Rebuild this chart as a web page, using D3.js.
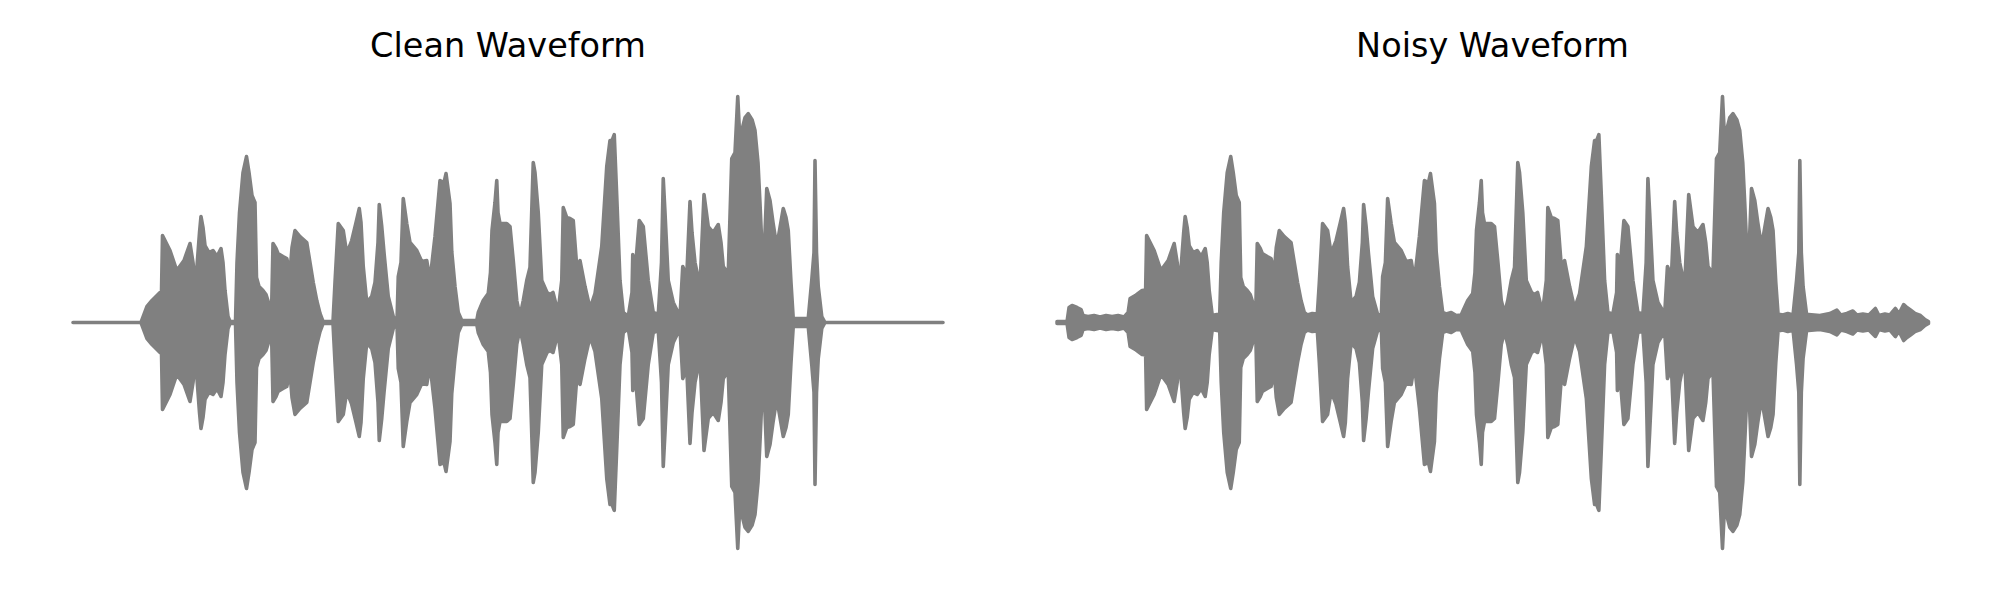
<!DOCTYPE html>
<html><head><meta charset="utf-8">
<script src="https://cdn.jsdelivr.net/npm/d3@7"></script>
<style>body{margin:0;background:#fff} svg{display:block}</style>
</head><body><svg id="c" width="2000" height="600"></svg>
<script>
const titles = ["Clean Waveform", "Noisy Waveform"];

// time in ms, amplitude envelope (fraction of full scale)
const cleanTime = [0,272,284,296,316,336,348,354,358,388,415,444,468,480,490,506,512,520,528,544,560,576,592,600,608,620,628,650,656,666,680,694,704,716,728,734,744,760,772,782,794,800,812,820,840,855,868,876,888,908,935,948,961,975,988,1000,1040,1048,1061,1081,1095,1115,1132,1145,1152,1161,1175,1195,1208,1220,1225,1235,1244,1261,1281,1296,1301,1312,1321,1335,1348,1375,1395,1415,1428,1448,1468,1484,1492,1508,1515,1528,1541,1555,1615,1621,1641,1661,1670,1676,1688,1695,1700,1708,1735,1748,1761,1775,1788,1801,1815,1828,1841,1848,1861,1875,1896,1908,1920,1932,1941,1955,1961,1975,1988,2001,2015,2028,2048,2068,2088,2115,2135,2148,2156,2165,2175,2188,2201,2221,2236,2239,2248,2265,2281,2301,2321,2341,2354,2361,2368,2381,2401,2428,2439,2455,2468,2476,2488,2508,2524,2541,2561,2581,2592,2601,2621,2635,2648,2659,2666,2675,2688,2701,2716,2728,2740,2748,2761,2775,2788,2800,2815,2828,2841,2852,2861,2872,2881,2941,2955,2964,2968,2974,2981,2995,3008,3480];
const cleanAmp = [0,0,0.032,0.064,0.088,0.108,0.12,0.12,0.348,0.288,0.208,0.248,0.316,0.24,0.144,0.36,0.424,0.38,0.308,0.28,0.288,0.264,0.296,0.24,0.128,0.024,0.004,0.004,0.24,0.44,0.6,0.664,0.6,0.508,0.48,0.18,0.144,0.128,0.112,0.08,0.032,0.316,0.296,0.276,0.264,0.256,0.2,0.3,0.368,0.344,0.32,0.24,0.16,0.088,0.036,0.004,0.004,0.16,0.396,0.368,0.276,0.328,0.4,0.456,0.4,0.224,0.08,0.104,0.16,0.32,0.472,0.384,0.28,0.104,0.024,0.004,0.184,0.24,0.496,0.396,0.32,0.288,0.244,0.248,0.168,0.344,0.568,0.56,0.596,0.476,0.284,0.144,0.04,0.008,0.008,0.04,0.088,0.116,0.2,0.368,0.48,0.568,0.44,0.396,0.396,0.384,0.248,0.088,0.024,0.088,0.168,0.22,0.64,0.6,0.44,0.168,0.12,0.112,0.12,0.072,0.048,0.168,0.46,0.42,0.416,0.408,0.224,0.248,0.144,0.056,0.116,0.304,0.624,0.728,0.728,0.752,0.504,0.168,0.04,0.024,0.12,0.272,0.196,0.408,0.384,0.168,0.04,0.032,0.24,0.576,0.44,0.168,0.08,0.024,0.224,0.184,0.484,0.36,0.24,0.144,0.512,0.384,0.36,0.392,0.32,0.224,0.196,0.656,0.68,0.904,0.76,0.768,0.82,0.836,0.812,0.768,0.64,0.476,0.184,0.536,0.488,0.4,0.304,0.38,0.456,0.42,0.368,0.16,0.016,0.016,0.168,0.28,0.648,0.28,0.144,0.024,0,0];

const noisyTime = [0,40,48,60,80,96,104,124,148,172,196,220,244,268,284,292,316,340,354,358,388,415,444,468,480,490,506,512,520,528,544,560,576,592,600,608,620,628,650,656,666,680,694,704,716,728,734,744,760,772,782,794,800,812,820,840,855,868,876,888,908,935,948,961,975,988,1000,1020,1040,1048,1061,1081,1095,1115,1132,1145,1152,1161,1175,1195,1208,1220,1225,1235,1244,1261,1281,1296,1301,1312,1321,1335,1348,1375,1395,1415,1428,1448,1468,1484,1492,1508,1515,1528,1541,1555,1575,1595,1615,1621,1641,1661,1670,1676,1688,1695,1700,1708,1735,1748,1761,1775,1788,1801,1815,1828,1841,1848,1861,1875,1896,1908,1920,1932,1941,1955,1961,1975,1988,2001,2015,2028,2048,2068,2088,2115,2135,2148,2156,2165,2175,2188,2201,2221,2236,2239,2248,2265,2281,2301,2321,2341,2354,2361,2368,2381,2401,2428,2439,2455,2468,2476,2488,2508,2524,2541,2561,2581,2592,2601,2621,2635,2648,2659,2666,2675,2688,2701,2716,2728,2740,2748,2761,2775,2788,2800,2815,2828,2841,2852,2861,2872,2881,2900,2920,2941,2955,2964,2968,2974,2981,2995,3003,3048,3088,3116,3132,3156,3180,3196,3220,3244,3270,3284,3308,3328,3350,3364,3383,3396,3410,3428,3450,3468,3482];
const noisyAmp = [0.004,0.004,0.06,0.068,0.06,0.052,0.028,0.024,0.028,0.022,0.028,0.024,0.028,0.022,0.04,0.096,0.11,0.128,0.13,0.348,0.288,0.208,0.248,0.316,0.24,0.144,0.36,0.424,0.38,0.308,0.28,0.288,0.264,0.296,0.24,0.128,0.03,0.03,0.034,0.24,0.44,0.6,0.664,0.6,0.508,0.48,0.18,0.144,0.128,0.112,0.08,0.04,0.316,0.296,0.276,0.264,0.256,0.2,0.3,0.368,0.344,0.32,0.24,0.16,0.088,0.04,0.03,0.036,0.034,0.16,0.396,0.368,0.276,0.328,0.4,0.456,0.4,0.224,0.08,0.104,0.16,0.32,0.472,0.384,0.28,0.104,0.032,0.03,0.184,0.24,0.496,0.396,0.32,0.288,0.244,0.248,0.168,0.344,0.568,0.56,0.596,0.476,0.284,0.144,0.04,0.034,0.04,0.028,0.03,0.044,0.088,0.116,0.2,0.368,0.48,0.568,0.44,0.396,0.396,0.384,0.248,0.088,0.036,0.088,0.168,0.22,0.64,0.6,0.44,0.168,0.12,0.112,0.12,0.072,0.048,0.168,0.46,0.42,0.416,0.408,0.224,0.248,0.144,0.056,0.116,0.304,0.624,0.728,0.728,0.752,0.504,0.168,0.04,0.034,0.12,0.272,0.196,0.408,0.384,0.168,0.04,0.034,0.24,0.576,0.44,0.168,0.08,0.034,0.224,0.184,0.484,0.36,0.24,0.144,0.512,0.384,0.36,0.392,0.32,0.224,0.196,0.656,0.68,0.904,0.76,0.768,0.82,0.836,0.812,0.768,0.64,0.476,0.184,0.536,0.488,0.4,0.304,0.38,0.456,0.42,0.368,0.16,0.034,0.03,0.036,0.03,0.168,0.28,0.648,0.28,0.144,0.032,0.032,0.028,0.036,0.05,0.03,0.036,0.046,0.03,0.034,0.03,0.056,0.028,0.034,0.03,0.056,0.034,0.072,0.06,0.05,0.036,0.028,0.012,0.004];

const panels = [
  {title: titles[0], time: cleanTime, amp: cleanAmp, x0: 29.5, x1: 986.5},
  {title: titles[1], time: noisyTime, amp: noisyAmp, x0: 1013.5, x1: 1971.5}
];

const svg = d3.select("#c");
const gray = "#808080";
const plotTop = 74, plotBottom = 571;

panels.forEach(p => {
  const tMax = 3480;
  const pad = 0.05 * tMax;
  const x = d3.scaleLinear().domain([-pad, tMax + pad]).range([p.x0, p.x1]);
  const aMax = 0.904 * 1.1;
  const y = d3.scaleLinear().domain([-aMax, aMax]).range([plotBottom, plotTop]);
  const n = Math.min(p.time.length, p.amp.length);
  const data = p.time.slice(0, n).map((t, i) => ({t, a: p.amp[i]}));
  const area = d3.area()
    .x(d => x(d.t))
    .y0(d => y(-d.a))
    .y1(d => y(d.a));
  const g = svg.append("g");
  g.append("path")
    .datum(data)
    .attr("d", area)
    .attr("fill", gray)
    .attr("stroke", gray)
    .attr("stroke-width", 3.6)
    .attr("stroke-linejoin", "round")
    .attr("stroke-linecap", "round");
  g.append("text")
    .attr("x", (p.x0 + p.x1) / 2)
    .attr("y", 57)
    .attr("text-anchor", "middle")
    .attr("font-family", "DejaVu Sans")
    .attr("font-size", 33.5)
    .attr("fill", "#000")
    .text(p.title);
});
</script></body></html>
